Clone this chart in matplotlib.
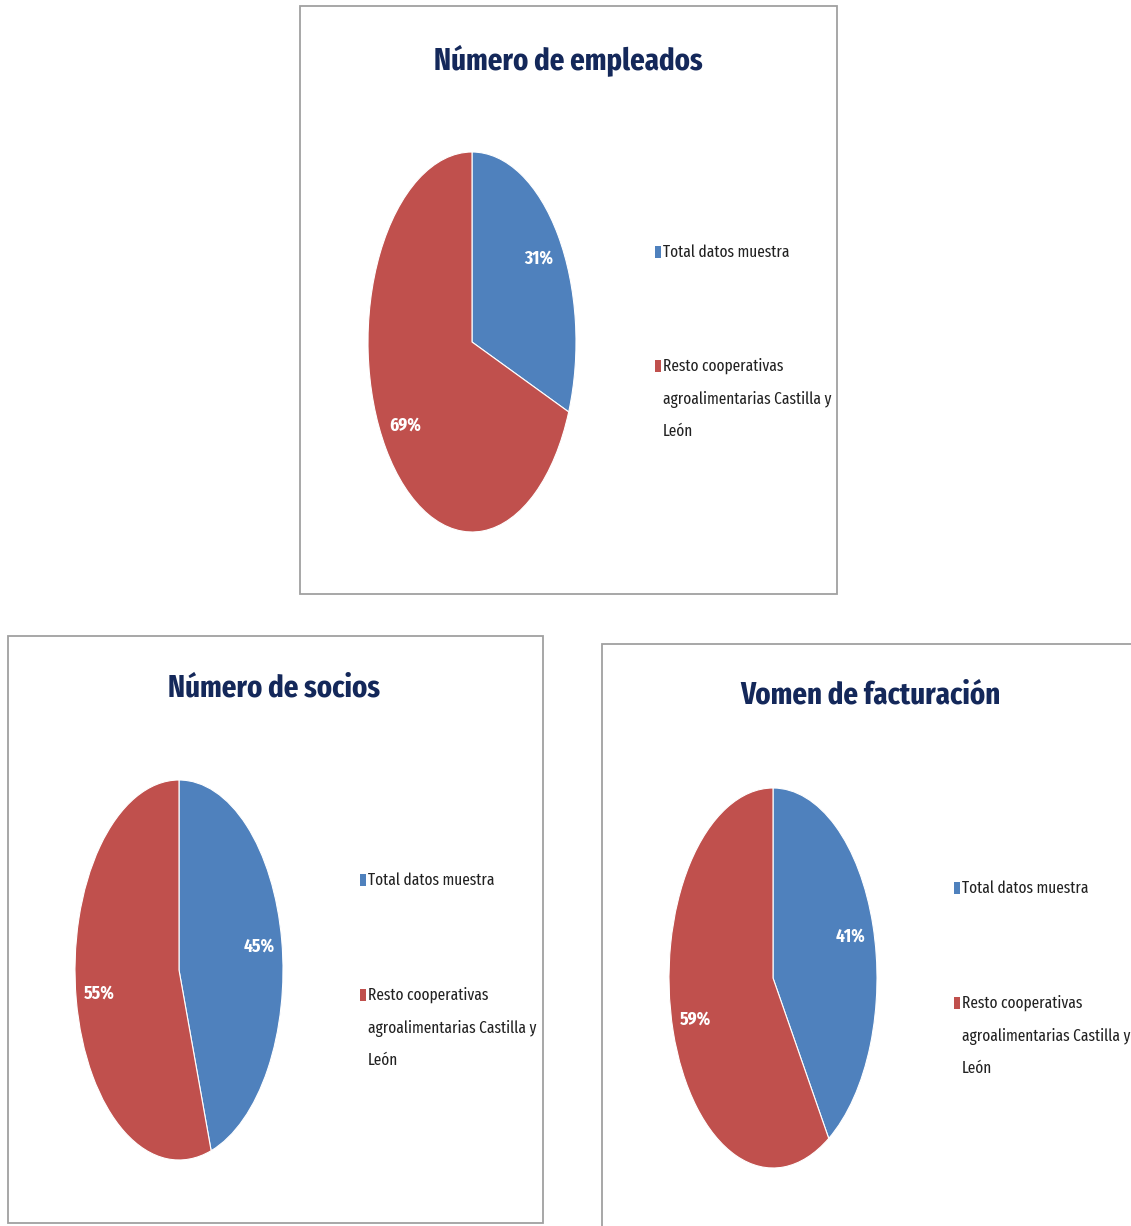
import matplotlib
matplotlib.use("Agg")
import matplotlib.pyplot as plt
from matplotlib.patches import Rectangle

# --- data ---
categories = ["Total datos muestra",
              "Resto cooperativas\nagroalimentarias Castilla y\nLeón"]
titles = ["Número de empleados", "Número de socios", "Vomen de facturación"]
empleados = [31, 69]
socios = [45, 55]
facturacion = [41, 59]
series = [empleados, socios, facturacion]

colors = ["#4F81BD", "#C0504D"]
title_color = "#14285A"

W, H = 1131, 1226
fig = plt.figure(figsize=(W / 100, H / 100), dpi=100)
fig.patch.set_facecolor("white")

FONT = ["Fira Sans Extra Condensed", "Fira Sans Condensed", "Carlito", "DejaVu Sans"]


def fx(x):
    return x / W


def fy(y):
    return 1 - y / H


# panel layout in pixels: box (x0, y0, x1, y1), pie center, title pos, legend x, legend y's
panels = [
    dict(box=(300, 6, 837, 594), center=(472, 342), title=(568, 60),
         leg_x=655, leg_y=[252, 366]),
    dict(box=(8, 636, 543, 1223), center=(179, 970), title=(274, 688),
         leg_x=360, leg_y=[880, 995]),
    dict(box=(602, 644, 1140, 1240), center=(773, 978), title=(870, 695),
         leg_x=954, leg_y=[888, 1003]),
]
rx, ry = 104, 190

for p, vals, ttl in zip(panels, series, titles):
    x0, y0, x1, y1 = p["box"]
    fig.patches.append(Rectangle((fx(x0), fy(y1)), fx(x1 - x0), (y1 - y0) / H,
                                 transform=fig.transFigure, fill=False,
                                 edgecolor="#A0A0A0", linewidth=1.3))
    cx, cy = p["center"]
    ax = fig.add_axes([fx(cx - rx), fy(cy + ry), 2 * rx / W, 2 * ry / H])
    wedges, texts, autotexts = ax.pie(
        vals, colors=colors, startangle=90, counterclock=False,
        autopct=lambda v: "%d%%" % round(v), pctdistance=0.78,
        wedgeprops=dict(edgecolor="white", linewidth=0.8))
    for t in autotexts:
        t.set_color("white")
        t.set_fontweight("bold")
        t.set_fontsize(13.5)
        t.set_family(FONT)
    ax.set_aspect("auto")
    ax.set_xlim(-1, 1)
    ax.set_ylim(-1, 1)
    ax.axis("off")

    tx, ty = p["title"]
    fig.text(fx(tx), fy(ty), ttl, ha="center", va="center", fontsize=22.5,
             fontweight="bold", color=title_color, family=FONT)

    # legend: colour squares + labels
    for lab, col, ly in zip(categories, colors, p["leg_y"]):
        fig.patches.append(Rectangle((fx(p["leg_x"]), fy(ly + 6)), 6 / W, 12 / H,
                                     transform=fig.transFigure, facecolor=col,
                                     edgecolor="none"))
        fig.text(fx(p["leg_x"] + 8), fy(ly - 8), lab, ha="left", va="top",
                 fontsize=12.0, color="#222222", family=FONT, linespacing=2.25)

fig.savefig("out.png", dpi=100, facecolor="white")
